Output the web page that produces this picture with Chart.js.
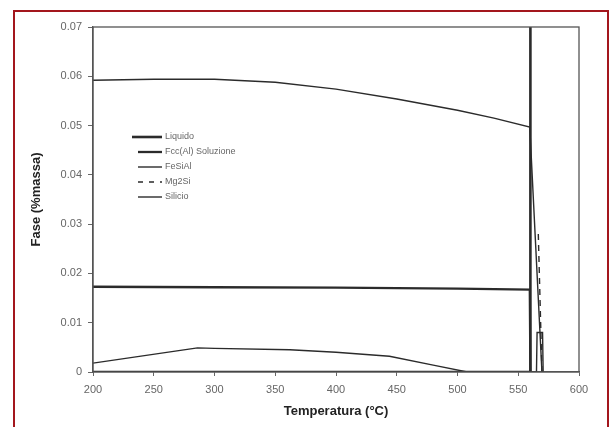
<!DOCTYPE html>
<html>
<head>
<meta charset="utf-8">
<script src="https://cdn.jsdelivr.net/npm/chart.js@4.4.1/dist/chart.umd.min.js"></script>
<style>
  html, body { margin:0; padding:0; background:#fff; }
  body { width:611px; height:427px; position:relative; overflow:hidden; font-family:"Liberation Sans", Arial, sans-serif; }
  #frame { position:absolute; left:13px; top:10px; width:592px; height:430px; border:2px solid #a3161d; border-bottom:none; box-sizing:content-box; pointer-events:none; }
  #c { position:absolute; left:0; top:0; }
  #legend { position:absolute; left:131px; top:129px; font-size:9px; color:#666; line-height:15px; }
  #legend .it { display:flex; align-items:center; height:15px; }
  #legend svg { margin-right:3px; }
</style>
</head>
<body>
<canvas id="c" width="611" height="427"></canvas>
<div id="frame"></div>
<div id="legend"></div>
<script>
// ---- data ----
const seriesNames = ['Liquido', 'Fcc(Al) Soluzione', 'FeSiAl', 'Mg2Si', 'Silicio'];

const liquidoT = [200, 560, 560];
const liquidoV = [0, 0, 0.2];

const fccT = [200, 300, 400, 500, 559.5, 560];
const fccV = [0.0173, 0.0172, 0.0171, 0.0169, 0.0167, 0];

const fesialT = [200, 250, 300, 350, 400, 450, 500, 530, 559.5, 569.5];
const fesialV = [0.0592, 0.0594, 0.0594, 0.0588, 0.0574, 0.0554, 0.0531, 0.0515, 0.0497, 0];

const mg2siT = [566.5, 569.5];
const mg2siV = [0.028, 0];

const silicioT = [200, 286, 300, 362, 400, 444, 480, 508, 565, 565.5, 570, 570.5];
const silicioV = [0.0018, 0.0049, 0.0048, 0.0045, 0.0040, 0.0032, 0.0014, 0, 0, 0.008, 0.008, 0];

const xTickLabels = ['200', '250', '300', '350', '400', '450', '500', '550', '600'];
const yTickLabels = ['0', '0.01', '0.02', '0.03', '0.04', '0.05', '0.06', '0.07'];

// ---- styles ----
const lineStyles = [
  { width: 2.6, dash: [] },
  { width: 2.3, dash: [] },
  { width: 1.4, dash: [] },
  { width: 1.4, dash: [6, 5] },
  { width: 1.4, dash: [] }
];
const seriesT = [liquidoT, fccT, fesialT, mg2siT, silicioT];
const seriesV = [liquidoV, fccV, fesialV, mg2siV, silicioV];
const lineColor = '#2b2b2b';

function pts(ts, vs) { return ts.map((t, i) => ({ x: t, y: vs[i] })); }

const datasets = seriesNames.map((name, i) => ({
  label: name,
  data: pts(seriesT[i], seriesV[i]),
  borderColor: lineColor,
  borderWidth: lineStyles[i].width,
  borderDash: lineStyles[i].dash,
  pointRadius: 0,
  tension: 0,
  fill: false
}));

const framePlugin = {
  id: 'frameBox',
  afterDatasetsDraw(chart) {
    const a = chart.chartArea, ctx = chart.ctx;
    ctx.save();
    ctx.strokeStyle = '#555';
    ctx.lineWidth = 1.3;
    ctx.strokeRect(a.left, a.top, a.right - a.left, a.bottom - a.top);
    ctx.restore();
  }
};

const fontFam = '"Liberation Sans", Arial, sans-serif';

new Chart(document.getElementById('c'), {
  type: 'line',
  data: { datasets },
  options: {
    responsive: false,
    animation: false,
    layout: { padding: { left: 0, right: 32, top: 27, bottom: 0 } },
    plugins: { legend: { display: false }, tooltip: { enabled: false } },
    scales: {
      x: {
        type: 'linear', min: 200, max: 600,
        afterFit(s) { s.height = 55; },
        afterBuildTicks(s) { s.ticks = xTickLabels.map(v => ({ value: Number(v) })); },
        ticks: { font: { size: 11, family: fontFam }, color: '#666', padding: 7, maxRotation: 0,
                 callback: (v, i) => xTickLabels[i] },
        grid: { drawOnChartArea: false, drawTicks: true, tickLength: 4, color: '#666' },
        border: { color: '#555', width: 1.3 },
        title: { display: true, text: 'Temperatura (°C)', color: '#222',
                 font: { size: 13, weight: 'bold', family: fontFam }, padding: { top: 0, bottom: 8 } }
      },
      y: {
        min: 0, max: 0.07,
        afterFit(s) { s.width = 93; },
        afterBuildTicks(s) { s.ticks = yTickLabels.map(v => ({ value: Number(v) })); },
        ticks: { font: { size: 11, family: fontFam }, color: '#666', padding: 6,
                 callback: (v, i) => yTickLabels[i] },
        grid: { drawOnChartArea: false, drawTicks: true, tickLength: 5, color: '#666' },
        border: { color: '#555', width: 1.3 },
        title: { display: true, text: 'Fase (%massa)', color: '#222',
                 font: { size: 13, weight: 'bold', family: fontFam }, padding: { top: 29, bottom: 0 } }
      }
    }
  },
  plugins: [framePlugin]
});

// ---- legend (HTML, built from the dataset names and styles) ----
const legendEl = document.getElementById('legend');
const sampleLen = [30, 24, 24, 24, 24];
seriesNames.forEach((name, i) => {
  const it = document.createElement('div');
  it.className = 'it';
  const st = lineStyles[i];
  const off = 30 - sampleLen[i];
  it.innerHTML = '<svg width="31" height="6"><line x1="' + (off + 1) + '" y1="3" x2="31" y2="3" stroke="' + lineColor +
    '" stroke-width="' + st.width + '"' + (st.dash.length ? ' stroke-dasharray="5,6"' : '') + '/></svg>';
  const sp = document.createElement('span');
  sp.textContent = name;
  it.appendChild(sp);
  legendEl.appendChild(it);
});
</script>
</body>
</html>
